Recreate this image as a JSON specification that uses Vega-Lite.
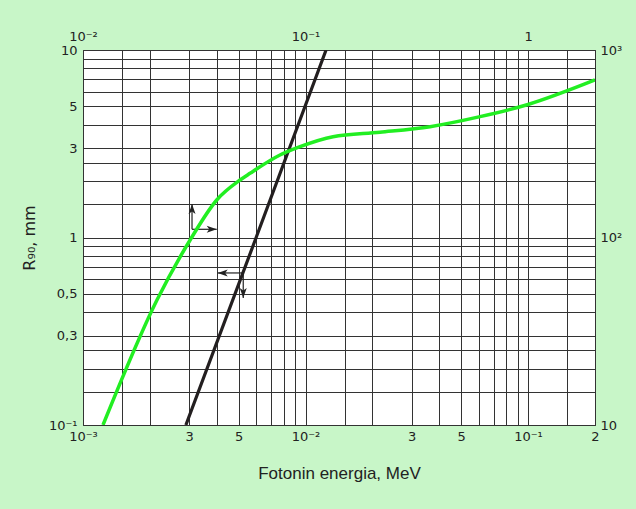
{
  "$schema": "https://vega.github.io/schema/vega-lite/v6.json",
  "autosize": {"type": "none"},
  "padding": {"left": 83, "top": 50, "right": 41, "bottom": 84},
  "width": 512,
  "height": 375,
  "background": "#c8f6c8",
  "config": {
    "view": {"fill": "white", "stroke": "#222222", "strokeWidth": 1},
    "axis": {
      "labelFont": "DejaVu Sans",
      "labelFontSize": 13,
      "labelColor": "#222222",
      "titleFont": "Liberation Sans",
      "titleFontSize": 17,
      "titleFontWeight": "normal",
      "titleColor": "#222222",
      "ticks": false,
      "domain": false,
      "labelOverlap": false,
      "labelFlush": false,
      "labelBound": false
    }
  },
  "datasets": {
    "low_energy": [
      {"x": 0.0029, "y": 0.1},
      {"x": 0.006, "y": 1},
      {"x": 0.01237, "y": 10}
    ],
    "high_energy": [
      {"x": 0.0123, "y": 10},
      {"x": 0.0215, "y": 46.4},
      {"x": 0.0303, "y": 97},
      {"x": 0.0399, "y": 158.5},
      {"x": 0.0508, "y": 202.6},
      {"x": 0.0563, "y": 219.9},
      {"x": 0.0768, "y": 275.4},
      {"x": 0.0945, "y": 305},
      {"x": 0.1329, "y": 344.8},
      {"x": 0.2162, "y": 364},
      {"x": 0.3628, "y": 390},
      {"x": 0.6087, "y": 441},
      {"x": 1.0, "y": 512},
      {"x": 2.0, "y": 692}
    ],
    "arrows": [
      {"x0": 0.00309, "y0": 1.106, "x": 0.00309, "y": 1.509, "dir": "up"},
      {"x0": 0.00309, "y0": 1.106, "x": 0.00399, "y": 1.106, "dir": "right"},
      {"x0": 0.00525, "y0": 0.647, "x": 0.00403, "y": 0.647, "dir": "left"},
      {"x0": 0.00525, "y0": 0.647, "x": 0.00525, "y": 0.476, "dir": "down"}
    ]
  },
  "layer": [
    {
      "layer": [
        {
          "data": {"name": "low_energy"},
          "mark": {"type": "line", "color": "#231f20", "strokeWidth": 3.2, "clip": true},
          "encoding": {
            "x": {
              "field": "x",
              "type": "quantitative",
              "scale": {"type": "log", "domain": [0.001, 0.2], "nice": false},
              "axis": {
                "orient": "bottom",
                "title": "Fotonin energia, MeV",
                "titlePadding": 22,
                "labelPadding": 5,
                "grid": true,
                "gridColor": "#333333",
                "gridWidth": 1,
                "values": [0.001, 0.0015, 0.002, 0.003, 0.004, 0.005, 0.006, 0.007, 0.008, 0.009, 0.01, 0.015, 0.02, 0.03, 0.04, 0.05, 0.06, 0.07, 0.08, 0.09, 0.1, 0.15, 0.2],
                "labelExpr": "datum.value == 0.001 ? '10⁻³' : (datum.value == 0.003 || datum.value == 0.03) ? '3' : (datum.value == 0.005 || datum.value == 0.05) ? '5' : datum.value == 0.01 ? '10⁻²' : datum.value == 0.1 ? '10⁻¹' : datum.value == 0.2 ? '2' : ''",
                "encode": {"labels": {"update": {"dx": {"signal": "(datum.value == 0.001 || datum.value == 0.01 || datum.value == 0.1) ? 5 : 0"}}}}
              }
            },
            "y": {
              "field": "y",
              "type": "quantitative",
              "scale": {"type": "log", "domain": [0.1, 10], "nice": false},
              "axis": {
                "orient": "left",
                "title": "R₉₀, mm",
                "titleFont": "DejaVu Sans",
                "titleFontSize": 16,
                "titlePadding": 11,
                "labelPadding": 6,
                "grid": true,
                "gridColor": "#333333",
                "gridWidth": 1,
                "values": [0.1, 0.15, 0.2, 0.25, 0.3, 0.4, 0.5, 0.6, 0.7, 0.8, 0.9, 1, 1.5, 2, 2.5, 3, 4, 5, 6, 7, 8, 9, 10],
                "labelExpr": "datum.value == 10 ? '10' : datum.value == 5 ? '5' : datum.value == 3 ? '3' : datum.value == 1 ? '1' : datum.value == 0.5 ? '0,5' : datum.value == 0.3 ? '0,3' : datum.value == 0.1 ? '10⁻¹' : ''"
              }
            }
          }
        },
        {
          "data": {"name": "arrows"},
          "mark": {"type": "rule", "color": "#222222", "strokeWidth": 1.2},
          "encoding": {
            "x": {"field": "x", "type": "quantitative"},
            "x2": {"field": "x0"},
            "y": {"field": "y", "type": "quantitative"},
            "y2": {"field": "y0"}
          }
        },
        {
          "data": {"name": "arrows"},
          "mark": {"type": "point", "filled": true, "color": "#222222", "opacity": 1, "size": 100, "strokeWidth": 0},
          "encoding": {
            "x": {"field": "x", "type": "quantitative"},
            "y": {"field": "y", "type": "quantitative"},
            "shape": {
              "field": "dir",
              "type": "nominal",
              "legend": null,
              "scale": {
                "domain": ["up", "right", "down", "left"],
                "range": ["M0,0L-0.7,2L0,1.5L0.7,2Z", "M0,0L-2,-0.7L-1.5,0L-2,0.7Z", "M0,0L-0.7,-2L0,-1.5L0.7,-2Z", "M0,0L2,-0.7L1.5,0L2,0.7Z"]
              }
            }
          }
        }
      ]
    },
    {
      "data": {"name": "high_energy"},
      "mark": {"type": "line", "color": "#22ee22", "strokeWidth": 3.5, "clip": true, "interpolate": "monotone"},
      "encoding": {
        "x": {
          "field": "x",
          "type": "quantitative",
          "scale": {"type": "log", "domain": [0.01, 2], "nice": false},
          "axis": {
            "orient": "top",
            "title": null,
            "grid": false,
            "labelPadding": 7,
            "values": [0.01, 0.1, 1],
            "labelExpr": "datum.value == 0.01 ? '10⁻²' : datum.value == 0.1 ? '10⁻¹' : '1'",
            "encode": {"labels": {"update": {"dx": {"signal": "datum.value < 0.5 ? 5 : 0"}}}}
          }
        },
        "y": {
          "field": "y",
          "type": "quantitative",
          "scale": {"type": "log", "domain": [10, 1000], "nice": false},
          "axis": {
            "orient": "right",
            "title": null,
            "grid": false,
            "labelPadding": 5,
            "values": [10, 100, 1000],
            "labelExpr": "datum.value == 10 ? '10' : datum.value == 100 ? '10²' : '10³'"
          }
        }
      }
    }
  ],
  "resolve": {"scale": {"x": "independent", "y": "independent"}}
}
